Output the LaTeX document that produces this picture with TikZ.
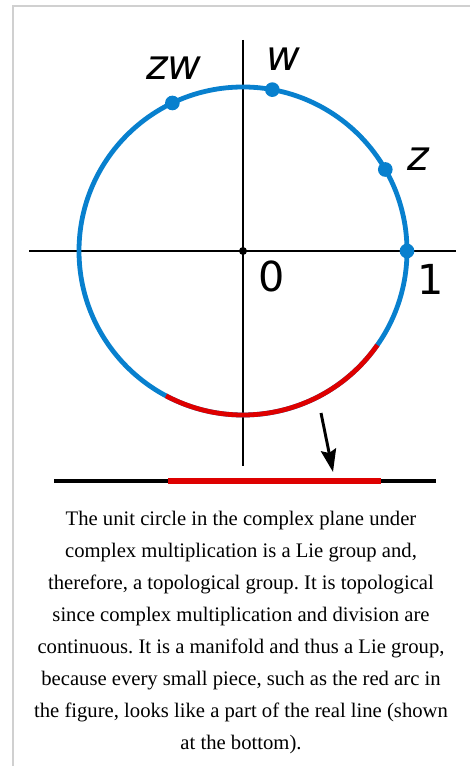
\documentclass[tikz,border=0pt]{standalone}
\usepackage{fontspec}
\setmainfont{Liberation Serif}
\newfontfamily\lblfont{DejaVu Sans}
\usepackage{tikz}
\usetikzlibrary{arrows.meta,positioning,calc}
\definecolor{circleBlue}{RGB}{8,128,206}
\definecolor{arcRed}{RGB}{222,0,0}
\definecolor{frameGray}{RGB}{208,208,208}
\frenchspacing

\begin{document}
\begin{tikzpicture}[x=0.75pt,y=0.75pt,
        dot/.style={circle, fill=circleBlue, inner sep=0pt, minimum size=11pt},
        odot/.style={circle, fill=black, inner sep=0pt, minimum size=6pt},
        lbl/.style={inner sep=0pt, font=\lblfont\itshape\fontsize{31}{31}\selectfont},
        num/.style={inner sep=0pt, font=\lblfont\fontsize{31}{31}\selectfont},
        axis/.style={line width=1.5pt},
        arr/.style={-{Stealth[length=17pt,width=11.5pt,inset=2.5pt]},line width=2.2pt}
      ]
        \useasboundingbox (0,0) rectangle (470,766);
        % FRAME
        \draw[frameGray,line width=1.2pt] (13,0) -- (13,760) -- (470,760);
        % AXES
        \coordinate (O) at (243,515);
        \coordinate (xl) at (29,515);
        \coordinate (xr) at (456,515);
        \coordinate (yt) at (243,726);
        \coordinate (yb) at (243,300);
        \draw[axis] (xl)--(xr);
        \draw[axis] (yt)--(yb);
        % UNIT CIRCLE with red arc
        \draw[circleBlue,line width=3.6pt] (O) circle[radius=164];
        \draw[arcRed,line width=3.6pt] ([shift={(242:164)}]O) arc[start angle=242, end angle=325, radius=164];
        % POINTS
        \node[odot] (zero) at (O) {};
        \node[dot] (one) at ([shift={(0:164)}]O) {};
        \node[dot] (z) at ([shift={(29.8:164)}]O) {};
        \node[dot] (w) at ([shift={(79.7:164)}]O) {};
        \node[dot] (zw) at ([shift={(115.5:164)}]O) {};
        \node[lbl] (zwlbl) at (174,697.5) {zw};
        \node[lbl] (wlbl) at (283.5,706.5) {w};
        \node[lbl] (zlbl) at (418,607) {z};
        \node[num] (zerolbl) at (272,489.3) {0};
        \node[num] (onelbl) at (431,486.5) {1};
        % REAL LINE
        \coordinate (ll) at (54,285);
        \coordinate (lr) at (436,285);
        \coordinate (rl) at (168,285);
        \coordinate (rr) at (381,285);
        \draw[line width=3.5pt] (ll)--(lr);
        \draw[arcRed,line width=5pt] (rl)--(rr);
        \coordinate (arrtail) at (321,353);
        \coordinate (arrtip) at (333,294);
        \draw[arr] (arrtail)--(arrtip);
        % CAPTION
        \node[anchor=north, inner sep=0pt, align=center, font=\fontsize{15.5}{24}\selectfont] (caption) at (241,255) {The unit circle in the complex plane under\\
          complex multiplication is a Lie group and,\\
          therefore, a topological group. It is topological\\
          since complex multiplication and division are\\
          continuous. It is a manifold and thus a Lie group,\\
          because every small piece, such as the red arc in\\
          the figure, looks like a part of the real line (shown\\
          at the bottom).};
      \end{tikzpicture}
\end{document}
